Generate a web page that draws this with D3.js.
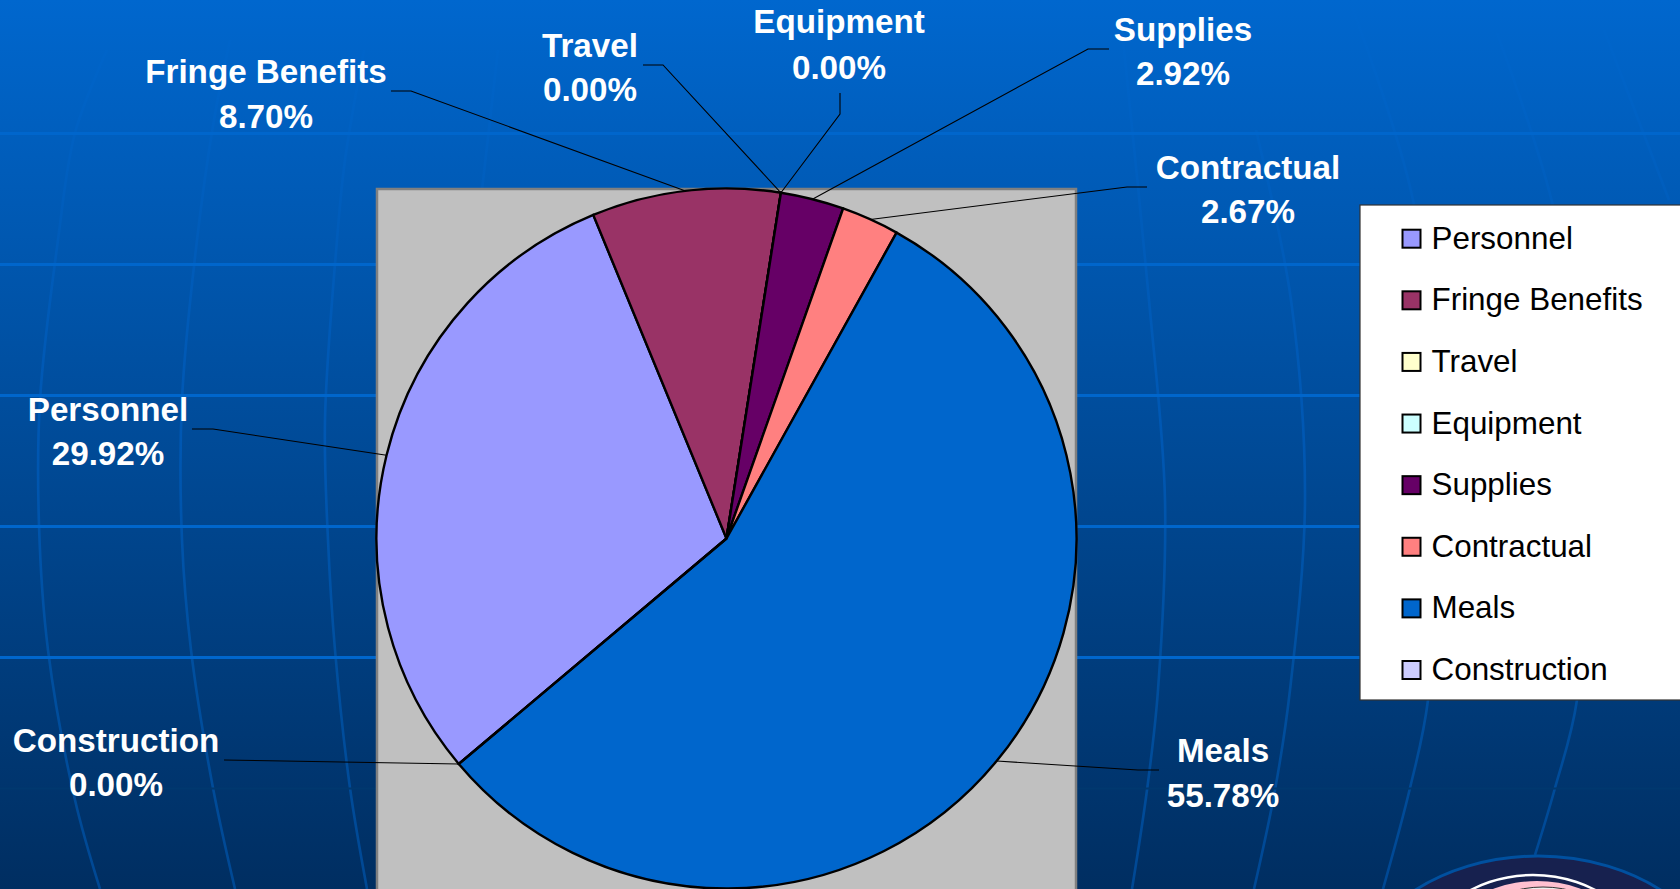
<!DOCTYPE html>
<html>
<head>
<meta charset="utf-8">
<title>Budget pie</title>
<script src="https://cdn.jsdelivr.net/npm/d3@7"></script>
<style>
  html, body { margin: 0; padding: 0; background: #003063; overflow: hidden; }
  svg { display: block; font-family: "Liberation Sans", Arial, sans-serif; }
  .slice-label { fill: #fff; font-size: 33.2px; font-weight: bold; text-anchor: middle; }
  .legend-label { fill: #000; font-size: 31.4px; }
  .leader { fill: none; stroke: #000; stroke-width: 1.1; }
</style>
</head>
<body>
<div id="chart"></div>
<script>
const categories = ["Personnel", "Fringe Benefits", "Travel", "Equipment", "Supplies", "Contractual", "Meals", "Construction"];
const shares = [29.92, 8.70, 0.00, 0.00, 2.92, 2.67, 55.78, 0.00];
const sliceColors = ["#9999ff", "#993366", "#ffffcc", "#ccffff", "#660066", "#ff8080", "#0066cc", "#ccccff"];

// label placement, same order as categories: [center x, first baseline, second baseline]
const labelSpots = [
  [108, 421, 465], [266, 83, 128], [590, 57, 101], [839, 33, 79],
  [1183, 41, 85], [1248, 179, 223], [1223, 762, 807], [116, 752, 796],
];
// leader lines: far end beside the label, then the elbow; the last point comes from the pie
const leaderEnds = [
  [[192, 429], [213, 429]], [[391, 91], [411, 91]], [[643, 65], [663, 65]], [[840, 93], [840, 114]],
  [[1109, 49], [1088, 49]], [[1147, 187], [1127, 187]], [[1159, 770], [1138, 770]], [[224, 760], [224, 760]],
];
const startDegrees = 229.9;

// backdrop globe lines, [x, y]
const meridians = [
  [[107, 50], [75, 133], [58, 240], [40, 400], [39, 525], [48, 650], [75, 800], [100, 889]],
  [[230, 40], [214, 120], [197, 240], [182, 400], [182, 540], [191, 650], [213, 788], [235, 889]],
  [[364, 50], [345, 160], [337, 240], [325, 420], [328, 540], [335, 650], [350, 788], [367, 889]],
  [[498, 50], [482, 190]],
  [[1122, 30], [1149, 300], [1165, 500], [1158, 690], [1147, 790], [1132, 889]],
  [[1256, 130], [1291, 300], [1305, 500], [1290, 690], [1275, 790], [1254, 889]],
  [[1352, 7], [1413, 200], [1440, 450], [1428, 700], [1410, 788], [1383, 889]],
  [[1497, 33], [1554, 210], [1590, 450], [1577, 700], [1555, 788], [1535, 855]],
  [[1604, 30], [1669, 200]],
];
const parallels = [133.5, 264.5, 395.5, 526.5, 657.5];

const width = 1680, height = 889;
const cx = 726.5, cy = 538.5, radius = 350;

const svg = d3.select("#chart").append("svg").attr("width", width).attr("height", height);

const defs = svg.append("defs");
const bgGrad = defs.append("linearGradient").attr("id", "bg").attr("x1", 0).attr("x2", 0).attr("y1", 0).attr("y2", 1);
bgGrad.append("stop").attr("offset", 0).attr("stop-color", "#0067ce");
bgGrad.append("stop").attr("offset", 1).attr("stop-color", "#002e61");
const lineGrad = defs.append("linearGradient").attr("id", "meridian").attr("gradientUnits", "userSpaceOnUse")
  .attr("x1", 0).attr("x2", 0).attr("y1", 0).attr("y2", height);
[[0, "#0067ce"], [0.25, "#005cba"], [0.5, "#0057b2"], [0.75, "#004f9f"], [1, "#004894"]].forEach(([offset, c]) => {
  lineGrad.append("stop").attr("offset", offset).attr("stop-color", c);
});

// backdrop
svg.append("rect").attr("width", width).attr("height", height).attr("fill", "url(#bg)");

const meridianLine = d3.line().curve(d3.curveCatmullRom);
svg.append("g").selectAll("path").data(meridians).join("path")
  .attr("d", meridianLine)
  .attr("fill", "none")
  .attr("stroke", "url(#meridian)")
  .attr("stroke-width", 2.6);

svg.append("g").selectAll("rect").data(parallels).join("rect")
  .attr("x", 0).attr("y", (d) => d - 1.5)
  .attr("width", width).attr("height", 3)
  .attr("fill", "#0066cc");
svg.append("rect").attr("x", 0).attr("y", 787.5).attr("width", width).attr("height", 2).attr("fill", "#00386f");

// badge in the corner
const badge = svg.append("g");
badge.append("ellipse").attr("cx", 1538).attr("cy", 1000).attr("rx", 190).attr("ry", 144)
  .attr("fill", "#17214f").attr("stroke", "#00509f").attr("stroke-width", 3);
badge.append("ellipse").attr("cx", 1533).attr("cy", 975).attr("rx", 118).attr("ry", 100)
  .attr("fill", "#17214f").attr("stroke", "#fff").attr("stroke-width", 2.5);
badge.append("ellipse").attr("cx", 1537).attr("cy", 975).attr("rx", 110).attr("ry", 94)
  .attr("fill", "#ffc0d0");
badge.append("ellipse").attr("cx", 1543).attr("cy", 975).attr("rx", 100).attr("ry", 88)
  .attr("fill", "#eee").attr("stroke", "#333").attr("stroke-width", 1);

// plot area
svg.append("rect")
  .attr("x", cx - radius + 0.5).attr("y", cy - radius + 0.5)
  .attr("width", radius * 2 - 1).attr("height", height - cy + radius + 4)
  .attr("fill", "#c0c0c0").attr("stroke", "#808080").attr("stroke-width", 2.5);

// pie
const color = d3.scaleOrdinal().domain(categories).range(sliceColors);
const startAngle = (startDegrees * Math.PI) / 180;
const pie = d3.pie().sort(null).value((d, i) => shares[i]).startAngle(startAngle).endAngle(startAngle + 2 * Math.PI);
const arc = d3.arc().innerRadius(0).outerRadius(radius);
const slices = pie(categories);

const pieG = svg.append("g").attr("transform", `translate(${cx},${cy})`);
pieG.selectAll("path").data(slices).join("path")
  .attr("d", arc)
  .attr("fill", (d) => color(d.data))
  .attr("stroke", "#000")
  .attr("stroke-width", 2.4)
  .attr("stroke-linejoin", "round");

// leaders run from the rim at the middle of each slice
const rimPoint = (d) => {
  const mid = (d.startAngle + d.endAngle) / 2;
  return [cx + radius * Math.sin(mid), cy - radius * Math.cos(mid)];
};
svg.append("g").selectAll("path").data(slices).join("path")
  .attr("class", "leader")
  .attr("d", (d, i) => d3.line()([...leaderEnds[i], rimPoint(d)]));

const labels = svg.append("g").selectAll("g").data(slices).join("g");
labels.append("text").attr("class", "slice-label")
  .attr("x", (d, i) => labelSpots[i][0]).attr("y", (d, i) => labelSpots[i][1])
  .text((d) => d.data);
labels.append("text").attr("class", "slice-label")
  .attr("x", (d, i) => labelSpots[i][0]).attr("y", (d, i) => labelSpots[i][2])
  .text((d) => d3.format(".2f")(d.value) + "%");

// legend
const legendY = d3.scalePoint().domain(categories).range([238.7, 670]);
svg.append("rect")
  .attr("x", 1360).attr("y", 205).attr("width", 324).attr("height", 495)
  .attr("fill", "#fff").attr("stroke", "#333").attr("stroke-width", 1.2);
const rows = svg.append("g").selectAll("g").data(categories).join("g")
  .attr("transform", (d) => `translate(0,${legendY(d)})`);
rows.append("rect")
  .attr("x", 1402.5).attr("y", -9).attr("width", 18).attr("height", 18)
  .attr("fill", (d) => color(d)).attr("stroke", "#000").attr("stroke-width", 2);
rows.append("text").attr("class", "legend-label")
  .attr("x", 1431.5).attr("y", 10)
  .text((d) => d);
</script>
</body>
</html>
